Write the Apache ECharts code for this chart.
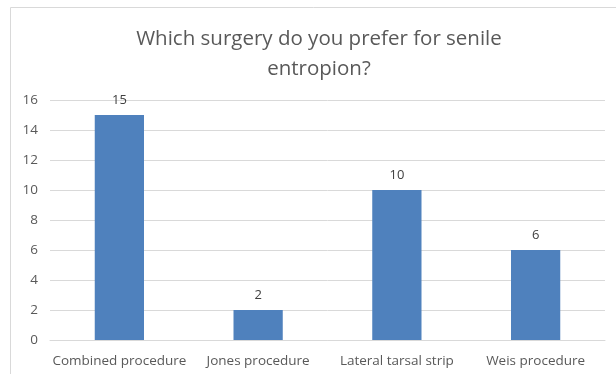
<!DOCTYPE html>
<html><head><meta charset="utf-8">
<script src="https://cdn.jsdelivr.net/npm/echarts@6/dist/echarts.min.js"></script>
<style>html,body{margin:0;padding:0;background:#fff}#c{width:616px;height:374px}</style>
</head><body><div id="c"></div>
<script>
const categories = ["Combined procedure", "Jones procedure", "Lateral tarsal strip", "Weis procedure"];
const values = [15, 2, 10, 6];
const titleText = "Which surgery do you prefer for senile\nentropion?";

const chart = echarts.init(document.getElementById('c'), null, {renderer: 'canvas'});
chart.setOption({
  animation: false,
  textStyle: {fontFamily: 'Open Sans, Liberation Sans, sans-serif'},
  graphic: [{
    type: 'polyline', silent: true,
    shape: {points: [[10.5, 380], [10.5, 7.5], [630, 7.5]]},
    style: {stroke: '#d9d9d9', lineWidth: 1, fill: null}
  }],
  title: {
    text: titleText, left: 314, top: 19, textAlign: 'center',
    textStyle: {fontSize: 20.5, fontWeight: 'normal', color: '#595959', lineHeight: 30, fontFamily: 'Open Sans, Liberation Sans, sans-serif'}
  },
  grid: {left: 50, right: 11, top: 100, bottom: 34, containLabel: false},
  xAxis: {
    type: 'category', data: categories,
    axisLine: {lineStyle: {color: '#d9d9d9'}},
    axisTick: {show: false},
    axisLabel: {color: '#595959', fontSize: 13.5, margin: 14, interval: 0}
  },
  yAxis: {
    type: 'value', min: 0, max: 16, interval: 2,
    axisLine: {show: false}, axisTick: {show: false},
    axisLabel: {color: '#595959', fontSize: 13.5, margin: 12},
    splitLine: {lineStyle: {color: '#d9d9d9'}}
  },
  series: [{
    type: 'bar', data: values, barWidth: '35.5%',
    itemStyle: {color: '#4f81bd'},
    label: {show: true, position: 'top', distance: 8, color: '#404040', fontSize: 13}
  }]
});
</script></body></html>
